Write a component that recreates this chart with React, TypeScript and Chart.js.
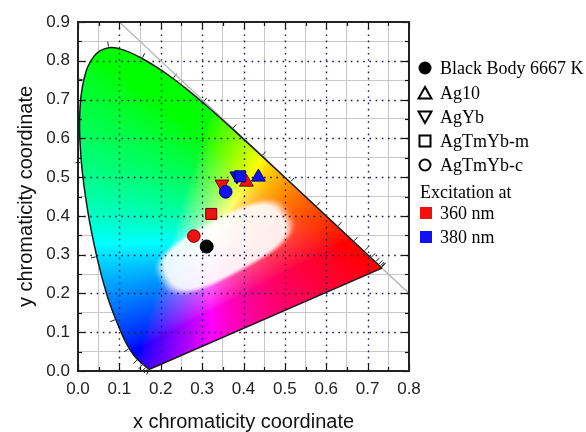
import React, { useEffect, useRef } from 'react';
import { Chart, registerables } from 'chart.js';

Chart.register(...registerables);

// CIE 1931 spectral locus (nm, x, y)
const locusNm = [380, 390, 400, 410, 420, 425, 430, 435, 440, 445, 450, 455, 460, 465, 470, 475, 480, 485, 490, 495, 500, 505, 510, 515, 520, 525, 530, 535, 540, 545, 550, 555, 560, 565, 570, 575, 580, 585, 590, 595, 600, 605, 610, 615, 620, 625, 630, 635, 640, 645, 650, 660, 670, 680, 700];
const locusX = [0.1741, 0.1738, 0.1733, 0.1726, 0.1714, 0.1703, 0.1689, 0.1669, 0.1644, 0.1611, 0.1566, 0.1510, 0.1440, 0.1355, 0.1241, 0.1096, 0.0913, 0.0687, 0.0454, 0.0235, 0.0082, 0.0039, 0.0139, 0.0389, 0.0743, 0.1142, 0.1547, 0.1929, 0.2296, 0.2658, 0.3016, 0.3373, 0.3731, 0.4087, 0.4441, 0.4788, 0.5125, 0.5448, 0.5752, 0.6029, 0.6270, 0.6482, 0.6658, 0.6801, 0.6915, 0.7006, 0.7079, 0.7140, 0.7190, 0.7230, 0.7260, 0.7300, 0.7320, 0.7334, 0.7347];
const locusY = [0.0050, 0.0049, 0.0048, 0.0048, 0.0051, 0.0058, 0.0069, 0.0086, 0.0109, 0.0138, 0.0177, 0.0227, 0.0297, 0.0399, 0.0578, 0.0868, 0.1327, 0.2007, 0.2950, 0.4127, 0.5384, 0.6548, 0.7502, 0.8120, 0.8338, 0.8262, 0.8059, 0.7816, 0.7543, 0.7243, 0.6923, 0.6589, 0.6245, 0.5896, 0.5547, 0.5202, 0.4866, 0.4544, 0.4242, 0.3965, 0.3725, 0.3514, 0.3340, 0.3197, 0.3083, 0.2993, 0.2920, 0.2859, 0.2809, 0.2770, 0.2740, 0.2700, 0.2680, 0.2666, 0.2653];
const locusTickNm = [420, 430, 440, 450, 460, 470, 480, 490, 500, 510, 520, 530, 540, 550, 560, 570, 580, 590, 600, 610, 620, 630, 640, 650, 660, 670, 680];

// x + y = 1 reference line
const diagX = [0.1, 0.8];
const diagY = [0.9, 0.2];

// Measured points
const blackBodyX = [0.311];
const blackBodyY = [0.321];
const ag10X = [0.407, 0.436];
const ag10Y = [0.487, 0.500];
const agYbX = [0.348, 0.384];
const agYbY = [0.482, 0.503];
const agTmYbMX = [0.322, 0.392];
const agTmYbMY = [0.405, 0.502];
const agTmYbCX = [0.280, 0.357];
const agTmYbCY = [0.348, 0.462];

const legendLabels = ['Black Body 6667 K', 'Ag10', 'AgYb', 'AgTmYb-m', 'AgTmYb-c'];
const excitationTitle = 'Excitation at';
const excitationLabels = ['360 nm', '380 nm'];
const excitationColors = ['#f01010', '#1010f0'];
const excitationBorders = ['#700000', '#000070'];

const xTitle = 'x chromaticity coordinate';
const yTitle = 'y chromaticity coordinate';

const SANS = '"Liberation Sans", Arial, sans-serif';
const SERIF = '"Liberation Serif", "Times New Roman", serif';

const LOCUS_DS = 5;

const isMajor = (v: number) => Math.abs(v * 10 - Math.round(v * 10)) < 1e-6;

function xyToRgb(x: number, y: number): [number, number, number] {
  if (y < 0.002) y = 0.002;
  const X = x / y;
  const Y = 1;
  const Z = (1 - x - y) / y;
  let r = 3.2406 * X - 1.5372 * Y - 0.4986 * Z;
  let g = -0.9689 * X + 1.8758 * Y + 0.0415 * Z;
  let b = 0.0557 * X - 0.2040 * Y + 1.0570 * Z;
  r = Math.max(r, 0); g = Math.max(g, 0); b = Math.max(b, 0);
  const m = Math.max(r, g, b, 1e-6);
  r = Math.pow(r / m, 0.72); g = Math.pow(g / m, 0.72); b = Math.pow(b / m, 0.72);
  // whitish central region
  const cx = 0.355, cy = 0.32;
  const th = Math.atan2(0.16, 0.28);
  const dx = x - cx, dy = y - cy;
  const a = dx * Math.cos(th) + dy * Math.sin(th);
  const bb = -dx * Math.sin(th) + dy * Math.cos(th);
  const d = Math.pow(Math.abs(a / 0.178) ** 3 + Math.abs(bb / 0.074) ** 3, 1 / 3);
  const t = Math.min(1, Math.max(0, (d - 0.85) / 0.2));
  const w = (1 - t * t * (3 - 2 * t)) * 0.9;
  r = r + (1 - r) * w; g = g + (1 - g) * w; b = b + (1 - b) * w;
  return [r * 255, g * 255, b * 255];
}

let fieldCache: HTMLCanvasElement | null = null;

const ciePlugin = {
  id: 'cieField',
  beforeDatasetsDraw(chart: any) {
    const { ctx, chartArea, scales } = chart;
    const xs = scales.x, ys = scales.y;
    const { left, top, right, bottom } = chartArea;
    const w = Math.round(right - left), h = Math.round(bottom - top);
    if (!fieldCache || fieldCache.width !== w || fieldCache.height !== h) {
      const off = document.createElement('canvas');
      off.width = w; off.height = h;
      const octx = off.getContext('2d')!;
      const img = octx.createImageData(w, h);
      for (let py = 0; py < h; py++) {
        const yv = ys.getValueForPixel(top + py + 0.5);
        for (let px = 0; px < w; px++) {
          const xv = xs.getValueForPixel(left + px + 0.5);
          const [r, g, b] = xyToRgb(xv, yv);
          const k = (py * w + px) * 4;
          img.data[k] = r; img.data[k + 1] = g; img.data[k + 2] = b; img.data[k + 3] = 255;
        }
      }
      octx.putImageData(img, 0, 0);
      fieldCache = off;
    }
    const el = chart.getDatasetMeta(LOCUS_DS).dataset;
    ctx.save();
    if (el.updateControlPoints) el.updateControlPoints(chartArea, 'x');
    ctx.beginPath();
    el.path(ctx);
    ctx.closePath();
    ctx.clip();
    ctx.drawImage(fieldCache, left, top);
    ctx.restore();

    // dotted major grid
    ctx.save();
    ctx.strokeStyle = '#1c1c48';
    ctx.lineWidth = 1.4;
    ctx.setLineDash([1.6, 4.6]);
    for (let v = 0.1; v < 0.79; v += 0.1) {
      const px = Math.round(xs.getPixelForValue(v)) + 0.5;
      ctx.beginPath(); ctx.moveTo(px, top); ctx.lineTo(px, bottom); ctx.stroke();
    }
    for (let v = 0.1; v < 0.89; v += 0.1) {
      const py = Math.round(ys.getPixelForValue(v)) + 0.5;
      ctx.beginPath(); ctx.moveTo(left, py); ctx.lineTo(right, py); ctx.stroke();
    }
    ctx.restore();

    // wavelength ticks on locus
    const wx = xs.getPixelForValue(0.33), wy = ys.getPixelForValue(0.33);
    ctx.save();
    ctx.strokeStyle = '#222';
    ctx.lineWidth = 1;
    locusTickNm.forEach((nm) => {
      const i = locusNm.indexOf(nm);
      if (i <= 0 || i >= locusNm.length - 1) return;
      const p = (j: number) => [xs.getPixelForValue(locusX[j]), ys.getPixelForValue(locusY[j])];
      const [x0, y0] = p(i);
      const [xa, ya] = p(i - 1);
      const [xb, yb] = p(i + 1);
      let tx = xb - xa, ty = yb - ya;
      const L = Math.hypot(tx, ty) || 1;
      tx /= L; ty /= L;
      let nx = -ty, ny = tx;
      if ((x0 - wx) * nx + (y0 - wy) * ny < 0) { nx = -nx; ny = -ny; }
      ctx.beginPath();
      ctx.moveTo(x0 + nx * 1, y0 + ny * 1);
      ctx.lineTo(x0 + nx * 6, y0 + ny * 6);
      ctx.stroke();
    });
    ctx.restore();
  },
  afterDraw(chart: any) {
    const { ctx, chartArea, scales } = chart;
    const xs = scales.x, ys = scales.y;
    const { left, top, right, bottom } = chartArea;
    ctx.save();
    ctx.strokeStyle = '#111';
    ctx.lineWidth = 1.2;
    for (let k = 0; k <= 16; k++) {
      const v = k * 0.05;
      const len = k % 2 === 0 ? 7 : 4;
      const px = Math.round(xs.getPixelForValue(v)) + 0.5;
      ctx.beginPath(); ctx.moveTo(px, bottom); ctx.lineTo(px, bottom - len); ctx.stroke();
      ctx.beginPath(); ctx.moveTo(px, top); ctx.lineTo(px, top + len); ctx.stroke();
    }
    for (let k = 0; k <= 18; k++) {
      const v = k * 0.05;
      const len = k % 2 === 0 ? 7 : 4;
      const py = Math.round(ys.getPixelForValue(v)) + 0.5;
      ctx.beginPath(); ctx.moveTo(left, py); ctx.lineTo(left + len, py); ctx.stroke();
      ctx.beginPath(); ctx.moveTo(right, py); ctx.lineTo(right - len, py); ctx.stroke();
    }
    ctx.lineWidth = 2;
    ctx.strokeStyle = '#222';
    ctx.strokeRect(left, top, right - left, bottom - top);

    // legend
    const mx = 425, tx = 440;
    const rows = [68, 93, 117, 141, 165];
    ctx.font = `18px ${SERIF}`;
    ctx.textBaseline = 'middle';
    ctx.fillStyle = '#000';
    ctx.strokeStyle = '#000';
    ctx.lineWidth = 2;
    legendLabels.forEach((lab, i) => {
      const cy = rows[i];
      ctx.beginPath();
      if (i === 0) {
        ctx.arc(mx, cy, 6.5, 0, Math.PI * 2); ctx.fill();
      } else if (i === 1) {
        ctx.moveTo(mx, cy - 6); ctx.lineTo(mx + 6.5, cy + 5.5); ctx.lineTo(mx - 6.5, cy + 5.5); ctx.closePath(); ctx.stroke();
      } else if (i === 2) {
        ctx.moveTo(mx, cy + 6); ctx.lineTo(mx + 6.5, cy - 5.5); ctx.lineTo(mx - 6.5, cy - 5.5); ctx.closePath(); ctx.stroke();
      } else if (i === 3) {
        ctx.rect(mx - 5.5, cy - 5.5, 11, 11); ctx.stroke();
      } else {
        ctx.arc(mx, cy, 5.5, 0, Math.PI * 2); ctx.stroke();
      }
      ctx.fillText(lab, tx, cy + 1);
    });
    ctx.fillText(excitationTitle, 420, 193);
    excitationLabels.forEach((lab, i) => {
      const cy = 213 + i * 24;
      ctx.fillStyle = excitationColors[i];
      ctx.fillRect(420, cy - 6, 12, 12);
      ctx.fillStyle = '#000';
      ctx.fillText(lab, tx, cy + 1);
    });
    ctx.restore();
  },
};

const markerDs = (label: string, xs: number[], ys: number[], style: string, radius: number, rotation = 0, colors?: string[], borders?: string[]) => ({
  label,
  data: xs.map((x, i) => ({ x, y: ys[i] })),
  pointStyle: style,
  pointRadius: radius,
  pointRotation: rotation,
  pointBackgroundColor: colors ?? excitationColors,
  pointBorderColor: borders ?? excitationBorders,
  pointBorderWidth: 1,
  showLine: false,
});

export default function App() {
  const ref = useRef<HTMLCanvasElement>(null);
  useEffect(() => {
    document.body.style.margin = '0';
    const canvas = ref.current!;
    const n = locusX.length;
    const chart = new Chart(canvas, {
      type: 'scatter',
      data: {
        datasets: [
          markerDs(legendLabels[0], blackBodyX, blackBodyY, 'circle', 6.5, 0, ['#000'], ['#000']),
          markerDs(legendLabels[4], agTmYbCX, agTmYbCY, 'circle', 6.3),
          markerDs(legendLabels[3], agTmYbMX, agTmYbMY, 'rect', 7.8),
          markerDs(legendLabels[1], ag10X, ag10Y, 'triangle', 8),
          markerDs(legendLabels[2], agYbX, agYbY, 'triangle', 8, 180),
          {
            label: 'locus',
            data: locusX.map((x, i) => ({ x, y: locusY[i] })),
            showLine: true,
            borderColor: '#1a1a1a',
            borderWidth: 1.5,
            pointRadius: 0,
            tension: 0.4,
          } as any,
          {
            label: 'purple line',
            data: [{ x: locusX[n - 1], y: locusY[n - 1] }, { x: locusX[0], y: locusY[0] }],
            showLine: true,
            borderColor: '#1a1a1a',
            borderWidth: 1.5,
            pointRadius: 0,
          } as any,
          {
            label: 'diag',
            data: diagX.map((x, i) => ({ x, y: diagY[i] })),
            showLine: true,
            borderColor: '#b4b4b4',
            borderWidth: 1.2,
            pointRadius: 0,
          } as any,
        ],
      },
      options: {
        animation: false,
        responsive: false,
        events: [],
        layout: { padding: { top: 22, right: 177, left: 0, bottom: 0 } },
        plugins: { legend: { display: false }, tooltip: { enabled: false } },
        scales: {
          x: {
            type: 'linear',
            min: 0,
            max: 0.8,
            afterFit: (s: any) => { s.height = 61; },
            ticks: {
              stepSize: 0.05,
              autoSkip: false,
              maxRotation: 0,
              padding: 8,
              color: '#222',
              font: { family: SANS, size: 17 },
              callback: (v: any) => (isMajor(Number(v)) ? Number(v).toFixed(1) : ''),
            },
            grid: {
              drawTicks: false,
              lineWidth: 1,
              color: (c: any) => (c.tick && isMajor(c.tick.value) ? 'rgba(0,0,0,0)' : '#c8c8c8'),
            },
            border: { display: false },
            title: {
              display: true,
              text: xTitle,
              color: '#111',
              font: { family: SANS, size: 20, lineHeight: 1 },
              padding: { top: 0, bottom: 0 },
            },
          },
          y: {
            type: 'linear',
            min: 0,
            max: 0.9,
            afterFit: (s: any) => { s.width = 78; },
            ticks: {
              stepSize: 0.05,
              autoSkip: false,
              padding: 8,
              color: '#222',
              font: { family: SANS, size: 17 },
              callback: (v: any) => (isMajor(Number(v)) ? Number(v).toFixed(1) : ''),
            },
            grid: {
              drawTicks: false,
              lineWidth: 1,
              color: (c: any) => (c.tick && isMajor(c.tick.value) ? 'rgba(0,0,0,0)' : '#c8c8c8'),
            },
            border: { display: false },
            title: {
              display: true,
              text: yTitle,
              color: '#111',
              font: { family: SANS, size: 20, lineHeight: 1 },
              padding: { top: 16, bottom: 0 },
            },
          },
        },
      } as any,
      plugins: [ciePlugin],
    });
    return () => chart.destroy();
  }, []);
  return <canvas ref={ref} width={586} height={432} style={{ display: 'block' }} />;
}
